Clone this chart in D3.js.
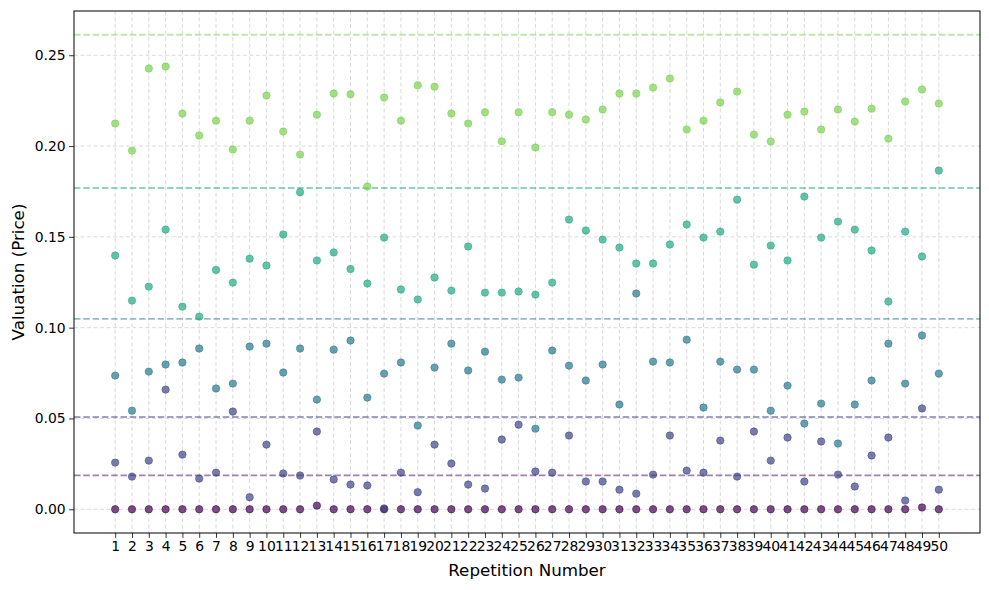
<!DOCTYPE html>
<html>
<head>
<meta charset="utf-8">
<title>Valuation per repetition</title>
<script src="https://d3js.org/d3.v7.min.js"></script>
<style>
  body { margin: 0; background: #fff; }
  text { font-family: "DejaVu Sans", sans-serif; }
</style>
</head>
<body>
<div id="chart"></div>
<script>
// repetitions 1..50
const reps = d3.range(1, 51);

// one array per group, bottom to top
const s0 = [0,0,0,0,0,0,0,0,0,0, 0,0,0.002,0,0,0,0,0,0,0, 0,0,0,0,0,0,0,0,0,0,
            0,0,0,0,0,0,0,0,0,0, 0,0,0,0,0,0,0,0,0.001,0];
const s1 = [0.0257,0.0180,0.0268,0.0659,0.0301,0.0169,0.0202,0.0538,0.0066,0.0356,
            0.0197,0.0186,0.0428,0.0164,0.0136,0.0131,0.0005,0.0202,0.0094,0.0356,
            0.0252,0.0136,0.0114,0.0384,0.0466,0.0208,0.0202,0.0406,0.0153,0.0153,
            0.0108,0.0086,0.0191,0.0406,0.0213,0.0202,0.0378,0.0180,0.0428,0.0268,
            0.0395,0.0153,0.0373,0.0191,0.0125,0.0296,0.0395,0.0048,0.0555,0.0108];
const s2 = [0.0736,0.0543,0.0758,0.0797,0.0808,0.0885,0.0665,0.0692,0.0896,0.0912,
            0.0753,0.0885,0.0604,0.0879,0.0929,0.0615,0.0747,0.0808,0.0461,0.0780,
            0.0912,0.0764,0.0868,0.0714,0.0725,0.0444,0.0874,0.0791,0.0709,0.0797,
            0.0577,0.1188,0.0813,0.0808,0.0934,0.0560,0.0813,0.0769,0.0769,0.0543,
            0.0681,0.0472,0.0582,0.0362,0.0577,0.0709,0.0912,0.0692,0.0957,0.0747];
const s3 = [0.1397,0.1149,0.1226,0.1540,0.1116,0.1061,0.1318,0.1248,0.1380,0.1342,
            0.1513,0.1746,0.1370,0.1414,0.1323,0.1243,0.1496,0.1210,0.1155,0.1276,
            0.1204,0.1447,0.1193,0.1193,0.1199,0.1182,0.1248,0.1595,0.1535,0.1485,
            0.1441,0.1353,0.1353,0.1458,0.1568,0.1496,0.1529,0.1705,0.1347,0.1452,
            0.1370,0.1722,0.1496,0.1584,0.1540,0.1425,0.1144,0.1529,0.1392,0.1865];
const s4 = [0.2124,0.1975,0.2427,0.2438,0.2179,0.2058,0.2140,0.1981,0.2140,0.2278,
            0.2080,0.1953,0.2173,0.2289,0.2285,0.1777,0.2267,0.2140,0.2335,0.2327,
            0.2179,0.2124,0.2186,0.2026,0.2186,0.1992,0.2186,0.2173,0.2146,0.2201,
            0.2289,0.2289,0.2322,0.2372,0.2091,0.2140,0.2240,0.2300,0.2063,0.2025,
            0.2173,0.2190,0.2091,0.2201,0.2135,0.2206,0.2041,0.2245,0.2311,0.2234];
// dashed reference levels, one per group
const levels = [0.0187, 0.0508, 0.1048, 0.1769, 0.2613];
const colors = ["#440154", "#414487", "#2a788e", "#22a884", "#7ad151"];
const yTicks = [0, 0.05, 0.10, 0.15, 0.20, 0.25];

const series = [s0, s1, s2, s3, s4];

const W = 989, H = 590;
const margin = {top: 11, right: 9, bottom: 57, left: 74};
const w = W - margin.left - margin.right;
const h = H - margin.top - margin.bottom;

const svg = d3.select("#chart").append("svg")
    .attr("width", W).attr("height", H);
const g = svg.append("g")
    .attr("transform", "translate(" + margin.left + "," + margin.top + ")");

const x = d3.scaleLinear().domain([1 - 49 * 0.05, 50 + 49 * 0.05]).range([0, w]);
const y = d3.scaleLinear().domain([-0.2613 * 0.05, 0.2613 * 1.05]).range([h, 0]);

// grid
g.append("g").selectAll("line").data(reps).join("line")
    .attr("x1", d => x(d)).attr("x2", d => x(d))
    .attr("y1", 0).attr("y2", h)
    .attr("stroke", "#b0b0b0").attr("stroke-opacity", 0.6)
    .attr("stroke-width", 0.8).attr("stroke-dasharray", "4,2.5");
g.append("g").selectAll("line").data(yTicks).join("line")
    .attr("x1", 0).attr("x2", w)
    .attr("y1", d => y(d)).attr("y2", d => y(d))
    .attr("stroke", "#b0b0b0").attr("stroke-opacity", 0.6)
    .attr("stroke-width", 0.8).attr("stroke-dasharray", "4,2.5");

// reference lines
g.append("g").selectAll("line").data(levels).join("line")
    .attr("x1", 0).attr("x2", w)
    .attr("y1", d => y(d)).attr("y2", d => y(d))
    .attr("stroke", (d, i) => colors[i]).attr("stroke-opacity", 0.5)
    .attr("stroke-width", 1.8).attr("stroke-dasharray", "6.5,2.8");

// points
series.forEach((s, k) => {
  g.append("g").selectAll("circle").data(s).join("circle")
      .attr("cx", (d, i) => x(reps[i]))
      .attr("cy", d => y(d))
      .attr("r", 3.7)
      .attr("fill", colors[k]).attr("fill-opacity", 0.7)
      .attr("stroke", colors[k]).attr("stroke-opacity", 0.7)
      .attr("stroke-width", 0.8);
});

// axes
const xAxis = g.append("g")
    .attr("transform", "translate(0," + h + ")")
    .call(d3.axisBottom(x).tickValues(reps).tickFormat(d3.format("d")).tickSize(4.9).tickPadding(3.5));
const yAxis = g.append("g")
    .call(d3.axisLeft(y).tickValues(yTicks).tickFormat(d3.format(".2f")).tickSize(4.9).tickPadding(3.5));
[xAxis, yAxis].forEach(a => {
  a.select(".domain").remove();
  a.selectAll("text").attr("font-family", "DejaVu Sans").attr("font-size", "13.9px").attr("fill", "#000");
  a.selectAll("line").attr("stroke", "#000").attr("stroke-width", 0.8);
});

// frame
g.append("rect").attr("width", w).attr("height", h)
    .attr("fill", "none").attr("stroke", "#000").attr("stroke-width", 1);

svg.append("text")
    .attr("x", margin.left + w / 2).attr("y", 576)
    .attr("text-anchor", "middle").attr("font-size", "16.7px")
    .text("Repetition Number");
svg.append("text")
    .attr("transform", "translate(24," + (margin.top + h / 2) + ") rotate(-90)")
    .attr("text-anchor", "middle").attr("font-size", "16.7px")
    .text("Valuation (Price)");
</script>
</body>
</html>
